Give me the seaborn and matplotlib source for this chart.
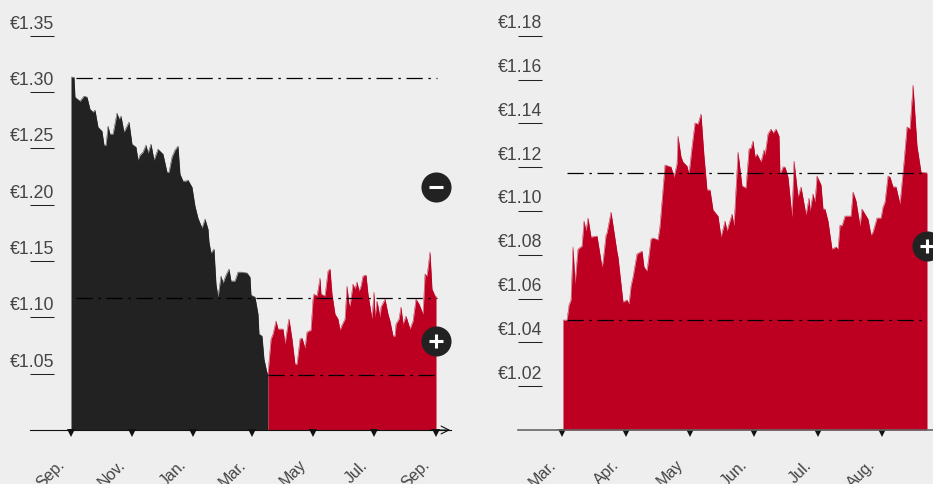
import matplotlib
matplotlib.use("Agg")
import matplotlib.pyplot as plt
from matplotlib.transforms import ScaledTranslation
import seaborn as sns

# left chart, one unit = one day from the first tick
days_fall = [0, 3, 4, 9, 13, 16, 19, 22, 24, 27, 31, 33, 35, 37, 39, 42, 46, 48, 50, 53, 58, 61, 65, 67, 69, 72, 75,
             77, 80, 83, 87, 92, 96, 98, 101, 104, 107, 109, 112, 115, 117, 121, 124, 127, 131, 134, 137, 138, 140,
             143, 145, 147, 150, 152, 155, 158, 160, 164, 167, 171, 176, 179, 180, 184, 187, 188, 191, 193, 196, 197]
eur_fall = [1.3131, 1.3131, 1.2954, 1.2918, 1.2963, 1.2954, 1.2847, 1.2821, 1.2838, 1.2688, 1.2652, 1.2528, 1.2528,
            1.2696, 1.2626, 1.2626, 1.2812, 1.2759, 1.2785, 1.2643, 1.2732, 1.2537, 1.2510, 1.2395, 1.2439, 1.2466,
            1.2528, 1.2457, 1.2537, 1.2395, 1.2492, 1.2448, 1.2288, 1.2288, 1.2422, 1.2484, 1.2519, 1.2271, 1.2209,
            1.2209, 1.2218, 1.2155, 1.1987, 1.1880, 1.1792, 1.1872, 1.1783, 1.1668, 1.1570, 1.1605, 1.1295, 1.1180,
            1.1366, 1.1304, 1.1375, 1.1428, 1.1322, 1.1322, 1.1401, 1.1401, 1.1393, 1.1357, 1.1197, 1.1180, 1.1029,
            1.0852, 1.0834, 1.0630, 1.0506, 1.0506]

days_rise = [197, 200, 202, 205, 207, 212, 214, 217, 218, 221, 224, 226, 229, 231, 234, 236, 240, 242, 243, 246, 249,
             250, 254, 257, 259, 261, 264, 267, 269, 271, 274, 276, 278, 279, 282, 284, 286, 288, 290, 292, 295, 297,
             301, 303, 304, 306, 309, 310, 314, 317, 319, 322, 324, 325, 328, 330, 332, 335, 339, 342, 345, 348, 352,
             354, 356, 359, 361, 364, 365]
eur_rise = [1.0506, 1.0807, 1.0852, 1.0967, 1.0896, 1.0896, 1.0763, 1.0940, 1.0985, 1.0807, 1.0585, 1.0585, 1.0807,
            1.0816, 1.0727, 1.0869, 1.0887, 1.1162, 1.1206, 1.1189, 1.1348, 1.1206, 1.1189, 1.1410, 1.1428, 1.1206,
            1.1029, 1.0985, 1.0887, 1.0931, 1.0985, 1.1277, 1.1118, 1.1100, 1.1295, 1.1251, 1.1313, 1.1233, 1.1277,
            1.1366, 1.1375, 1.1206, 1.0985, 1.1224, 1.1002, 1.1144, 1.1002, 1.1091, 1.1162, 1.1029, 1.0967, 1.0834,
            1.0834, 1.0940, 1.0985, 1.1091, 1.0940, 1.1011, 1.0896, 1.0967, 1.1162, 1.1118, 1.1029, 1.1384, 1.1366,
            1.1579, 1.1251, 1.1189, 1.1189]

left_ticks = [0, 61, 122, 181, 242, 303, 365]
left_labels = ["Sep.", "Nov.", "Jan.", "Mar.", "May", "Jul.", "Sep."]
left_yticks = [1.05, 1.10, 1.15, 1.20, 1.25, 1.30, 1.35]
left_levels = [1.3122, 1.1175, 1.0492]
left_level_start = [5, 5, 197]

# right chart, 64 units = one month
t_right = [1, 5, 7, 9, 11, 13, 16, 20, 22, 24, 26, 29, 35, 40, 41, 44, 45, 49, 55, 56, 61, 65, 67, 69, 71, 75, 80, 82,
           85, 89, 91, 96, 98, 103, 109, 112, 115, 116, 119, 121, 125, 127, 130, 133, 136, 139, 142, 145, 148, 151,
           156, 159, 163, 165, 170, 172, 176, 180, 184, 187, 189, 191, 193, 195, 199, 202, 203, 206, 209, 211, 214,
           217, 218, 221, 223, 226, 230, 232, 236, 239, 244, 247, 248, 251, 253, 255, 259, 261, 263, 266, 270, 274,
           276, 278, 280, 283, 289, 291, 294, 298, 300, 306, 309, 311, 315, 319, 321, 323, 326, 328, 331, 334, 338,
           342, 345, 348, 351, 355, 359, 365]
eur_right = [1.0502, 1.0502, 1.0571, 1.0594, 1.0836, 1.0667, 1.0826, 1.0840, 1.0954, 1.0909, 1.0968, 1.0881, 1.0886,
             1.0744, 1.0767, 1.0890, 1.0900, 1.0995, 1.0813, 1.0790, 1.0584, 1.0594, 1.0575, 1.0658, 1.0699, 1.0804,
             1.0817, 1.0744, 1.0726, 1.0872, 1.0877, 1.0868, 1.0932, 1.1210, 1.1201, 1.1155, 1.1215, 1.1342, 1.1247,
             1.1224, 1.1205, 1.1169, 1.1292, 1.1402, 1.1397, 1.1443, 1.1251, 1.1096, 1.1096, 1.1005, 1.0977, 1.0881,
             1.0954, 1.0909, 1.0986, 1.0932, 1.1269, 1.1114, 1.1105, 1.1283, 1.1288, 1.1320, 1.1247, 1.1260, 1.1224,
             1.1279, 1.1256, 1.1352, 1.1374, 1.1356, 1.1374, 1.1342, 1.1164, 1.1201, 1.1201, 1.1155, 1.0973, 1.1228,
             1.1064, 1.1110, 1.0982, 1.1059, 1.1000, 1.1078, 1.1041, 1.1160, 1.1119, 1.1009, 1.1009, 1.0954, 1.0826,
             1.0836, 1.0826, 1.0936, 1.0932, 1.0977, 1.0977, 1.1087, 1.1046, 1.0932, 1.1009, 1.0963, 1.0890, 1.0904,
             1.0968, 1.0968, 1.1018, 1.1041, 1.1160, 1.1155, 1.1110, 1.1110, 1.1032, 1.1224, 1.1384, 1.1374, 1.1575,
             1.1297, 1.1178, 1.1174]

right_ticks = [0, 64, 128, 192, 256, 320]
right_labels = ["Mar.", "Apr.", "May", "Jun.", "Jul.", "Aug."]
right_yticks = [1.02, 1.04, 1.06, 1.08, 1.10, 1.12, 1.14, 1.16, 1.18]
right_levels = [1.1174, 1.0502]

BG = "#eeeeee"
DARK = "#222222"
RED = "#bd0022"
TEXT = "#444444"

sns.set_theme(style="white", rc={"figure.facecolor": BG, "axes.facecolor": BG, "savefig.facecolor": BG})
plt.rcParams["font.family"] = ["Liberation Sans", "DejaVu Sans"]

W, H = 933, 485
fig = plt.figure(figsize=(W / 100, H / 100), dpi=100)
ax1 = fig.add_axes([30 / W, 54 / H, 421 / W, 431 / H])
ax2 = fig.add_axes([518 / W, 54 / H, 415 / W, 431 / H])


def area(ax, x, y, color):
    sns.lineplot(x=x, y=y, ax=ax, color=color, linewidth=0.3, estimator=None)
    ax.fill_between(x, 1.0, y, color=color, linewidth=0)


def icon(ax, x, y, symbol):
    ax.scatter([x], [y], s=470, color=DARK, linewidths=0, clip_on=False, zorder=5)
    ax.scatter([x], [y], s=115, marker=symbol, color="white", linewidths=2.2, clip_on=False, zorder=6)


def style_axis(ax, xticks, xlabels, yticks, ylabel_up):
    ax.patch.set_alpha(0)
    sns.despine(ax=ax, left=True)
    ax.spines["bottom"].set_color("#111111")
    ax.spines["bottom"].set_linewidth(0.8)
    ax.set_yticks(yticks)
    ax.set_yticklabels([f"€{v:.2f}" for v in yticks], fontsize=12.7, color=TEXT)
    ax.tick_params(axis="y", left=True, direction="in", length=17.3, width=0.75, color="#222222", pad=0)
    shift = ScaledTranslation(24 / 100, ylabel_up / 100, fig.dpi_scale_trans)
    for lab in ax.get_yticklabels():
        lab.set_transform(lab.get_transform() + shift)
    ax.set_xticks(xticks)
    ax.set_xticklabels(xlabels, rotation=45, ha="right", va="top", rotation_mode="anchor", fontsize=11.5, color=TEXT)
    ax.tick_params(axis="x", bottom=False, length=0, pad=19)
    nudge = ScaledTranslation(-14 / 100, 0, fig.dpi_scale_trans)
    for lab in ax.get_xticklabels():
        lab.set_transform(lab.get_transform() + nudge)
    # little triangles under the axis
    ax.plot(xticks, [-3 / 431] * len(xticks), linestyle="none", marker="v", markersize=5.2, color="#111111",
            markeredgewidth=0, transform=ax.get_xaxis_transform(), clip_on=False)


area(ax1, days_fall, eur_fall, DARK)
area(ax1, days_rise, eur_rise, RED)
for lvl, start in zip(left_levels, left_level_start):
    ax1.plot([start, 366], [lvl, lvl], color="black", lw=0.9, linestyle=(0, (13, 4.5, 2, 4.5)), zorder=4)
ax1.set_xlim(-41, 380)
ax1.set_ylim(1.0, 1 + 431 / 1127)
style_axis(ax1, left_ticks, left_labels, left_yticks, 14.5)
ax1.annotate("", xy=(0.998, 0), xytext=(0.95, 0), xycoords="axes fraction",
             arrowprops=dict(arrowstyle="->", lw=0.8, color="#111111", mutation_scale=14, shrinkA=0, shrinkB=0))
icon(ax1, 365, 1.2156, "_")
icon(ax1, 365, 1.0790, "+")

area(ax2, t_right, eur_right, RED)
for lvl in right_levels:
    ax2.plot([5, 365], [lvl, lvl], color="black", lw=0.9, linestyle=(0, (13, 4.5, 2, 4.5)), zorder=4)
ax2.set_xlim(-44, 371)
ax2.set_ylim(1.0, 1 + 431 / 2190)
style_axis(ax2, right_ticks, right_labels, right_yticks, 15)
ax2.spines["bottom"].set_color("#666666")
ax2.spines["bottom"].set_linewidth(1.2)
icon(ax2, 365, 1.0840, "+")

fig.savefig("out.png", dpi=100)
